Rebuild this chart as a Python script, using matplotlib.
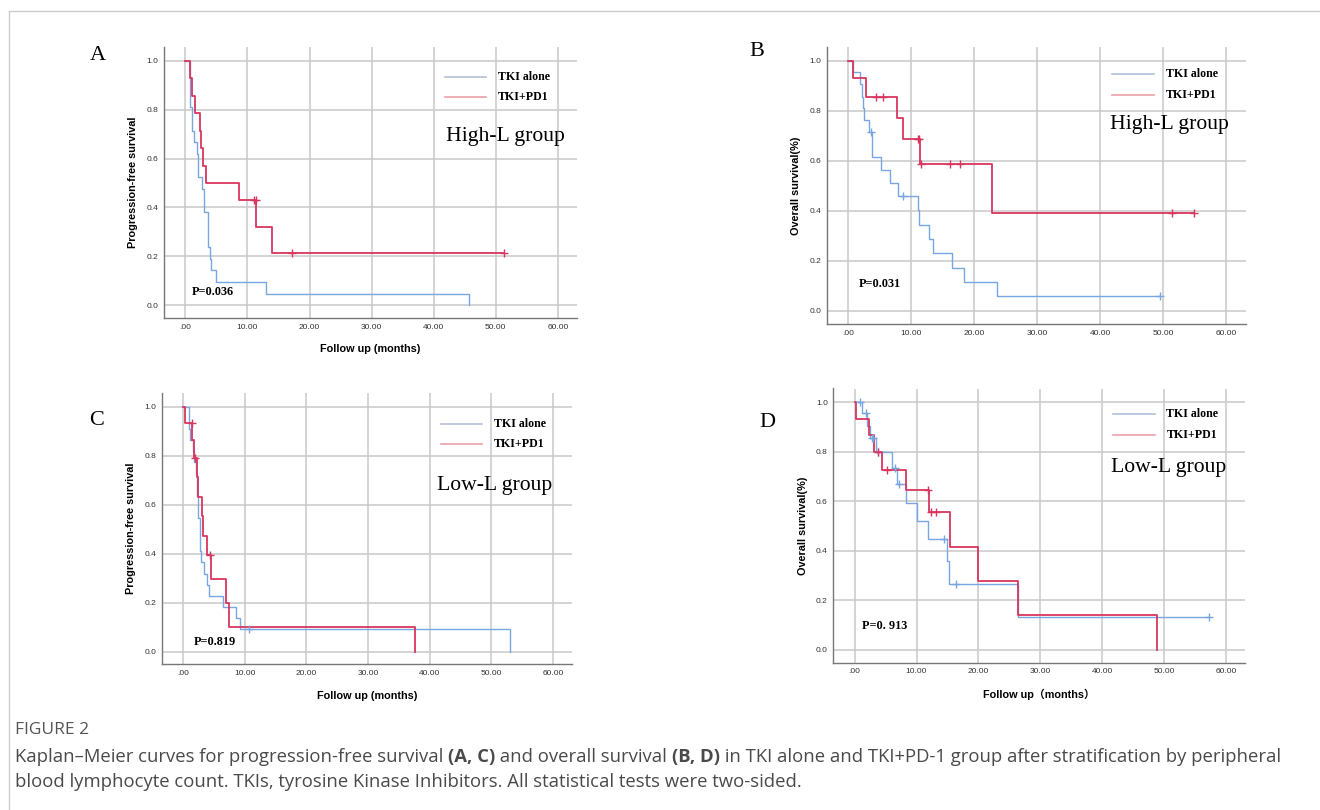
import numpy as np
import matplotlib
matplotlib.use('Agg')
import matplotlib.pyplot as plt
from matplotlib.lines import Line2D

# ---- data (months, survival proportion) ----
# A: PFS, High-L
a_alone_t = [0.75, 1.0, 1.34, 1.88, 2.1, 2.63, 2.96, 3.6, 3.92, 4.09, 5.0, 13.06, 45.7]
a_alone_s = [0.810, 0.714, 0.667, 0.619, 0.524, 0.476, 0.381, 0.238, 0.190, 0.143, 0.095, 0.048, 0.0]
a_alone_end = 45.7
a_alone_cens = []
a_pd1_t = [0.7, 1.13, 1.56, 2.37, 2.58, 2.85, 3.33, 8.66, 11.45, 14.0]
a_pd1_s = [0.929, 0.857, 0.786, 0.714, 0.643, 0.571, 0.500, 0.429, 0.321, 0.214]
a_pd1_end = 51.3
a_pd1_cens = [11.05, 11.35, 17.15, 51.3]

# B: OS, High-L
b_alone_t = [0.7, 1.85, 2.17, 2.33, 2.43, 3.33, 3.75, 5.23, 6.6, 7.88, 11.05, 11.26,
             12.74, 13.37, 16.44, 18.34, 23.6]
b_alone_s = [0.953, 0.905, 0.857, 0.810, 0.764, 0.716, 0.614, 0.563, 0.512, 0.460, 0.403,
             0.345, 0.287, 0.230, 0.172, 0.115, 0.058]
b_alone_end = 49.4
b_alone_cens = [3.54, 8.67, 49.4]
b_pd1_t = [0.69, 2.85, 7.77, 8.6, 11.36, 22.8]
b_pd1_s = [0.929, 0.857, 0.771, 0.686, 0.588, 0.392]
b_pd1_end = 54.9
b_pd1_cens = [4.4, 5.44, 11.0, 11.2, 11.45, 16.07, 17.76, 51.3, 54.9]

# C: PFS, Low-L
c_alone_t = [0.9, 1.13, 1.6, 1.85, 2.05, 2.3, 2.5, 2.7, 2.96, 3.4, 3.83, 4.2, 6.47, 8.63, 9.33, 53.1]
c_alone_s = [0.909, 0.864, 0.818, 0.773, 0.727, 0.636, 0.545, 0.409, 0.364, 0.318, 0.273,
             0.227, 0.182, 0.136, 0.091, 0.0]
c_alone_end = 53.1
c_alone_cens = [10.7]
c_pd1_t = [0.27, 1.5, 1.78, 2.2, 2.48, 3.07, 3.3, 3.9, 4.58, 6.95, 7.44, 37.6]
c_pd1_s = [0.933, 0.866, 0.791, 0.711, 0.632, 0.553, 0.474, 0.395, 0.296, 0.198, 0.099, 0.0]
c_pd1_end = 37.6
c_pd1_cens = [1.4, 1.9, 4.37]

# D: OS, Low-L
d_alone_t = [1.18, 1.93, 2.47, 3.38, 6.07, 6.87, 8.32, 10.09, 11.86, 14.92, 15.19, 26.35]
d_alone_s = [0.955, 0.905, 0.857, 0.800, 0.736, 0.669, 0.595, 0.520, 0.446, 0.357, 0.268, 0.134]
d_alone_end = 57.2
d_alone_cens = [0.91, 1.77, 2.85, 3.0, 3.76, 6.6, 7.14, 14.4, 16.4, 57.2]
d_pd1_t = [0.27, 2.3, 3.1, 4.45, 8.37, 11.97, 15.35, 19.97, 26.35, 48.9]
d_pd1_s = [0.933, 0.867, 0.800, 0.727, 0.647, 0.555, 0.416, 0.277, 0.139, 0.0]
d_pd1_end = 48.9
d_pd1_cens = [3.7, 5.26, 11.86, 12.35, 13.15]

x_ticks = [0, 10, 20, 30, 40, 50, 60]
x_ticklabels = ['.00', '10.00', '20.00', '30.00', '40.00', '50.00', '60.00']
y_ticks = [0.0, 0.2, 0.4, 0.6, 0.8, 1.0]

BLUE = '#78a6e0'
RED = '#d8365e'
W, H = 1320, 810

fig = plt.figure(figsize=(W / 100, H / 100), dpi=100)
fig.patch.set_facecolor('white')


def px_axes(left, top, right, bottom):
    return fig.add_axes([left / W, 1 - bottom / H, (right - left) / W, (bottom - top) / H])


def surv_at(ts, ss, c):
    val = 1.0
    for t, s in zip(ts, ss):
        if t <= c:
            val = s
    return val


def km(ax, ts, ss, end, cens, color, lw):
    x = [0] + list(ts) + [end]
    y = [1.0] + list(ss) + [ss[-1]]
    ax.step(x, y, where='post', color=color, lw=lw, zorder=3)
    if cens:
        ax.plot(cens, [surv_at(ts, ss, c) for c in cens], ls='none', marker='+',
                ms=6, mew=1.0, color=color, zorder=4)


def panel(box, alone, pd1, ylabel, xlabel, pval, p_xy, group, leg_y, grp_y):
    ax = px_axes(*box)
    ax.set_xlim(-3.45, 63.1)
    ax.set_ylim(-0.052, 1.056)
    ax.set_xticks(x_ticks)
    ax.set_xticklabels(x_ticklabels)
    ax.set_yticks(y_ticks)
    ax.set_yticklabels([f'{v:.1f}' for v in y_ticks])
    ax.tick_params(length=0, labelsize=6, colors='#333333', pad=4)
    for lbl in ax.get_xticklabels() + ax.get_yticklabels():
        lbl.set_family('Liberation Sans')
    ax.grid(True, color='#c9c9c9', lw=1.1, zorder=0)
    ax.set_axisbelow(True)
    for s in ['top', 'right']:
        ax.spines[s].set_visible(False)
    for s in ['left', 'bottom']:
        ax.spines[s].set_color('#777777')
        ax.spines[s].set_linewidth(1.0)
    km(ax, *alone, BLUE, 1.0)
    km(ax, *pd1, RED, 1.3)
    ax.set_ylabel(ylabel, family='Liberation Sans', fontweight='bold', fontsize=7.8,
                  labelpad=6)
    if xlabel:
        ax.set_xlabel(xlabel, family=['Liberation Sans', 'Noto Sans CJK SC'],
                      fontweight='bold', fontsize=7.8, labelpad=10)
    ax.text(p_xy[0], p_xy[1], pval, family='Liberation Serif', fontweight='bold',
            fontsize=8.8, va='center', ha='left')
    # legend drawn as plain lines + text
    for (lab, col), yy in zip([('TKI alone', '#b3c0d8'), ('TKI+PD1', '#eba0aa')], leg_y):
        ax.plot([41.8, 48.5], [yy, yy], color=col, lw=1.2, zorder=2)
        ax.text(50.4, yy, lab, family='Liberation Serif', fontweight='bold',
                fontsize=8.6, va='center', ha='left')
    ax.text(group[1], grp_y, group[0], family='Liberation Serif', fontsize=15.6,
            va='center', ha='left')
    return ax


panel((164, 47, 577, 318),
      (a_alone_t, a_alone_s, a_alone_end, a_alone_cens),
      (a_pd1_t, a_pd1_s, a_pd1_end, a_pd1_cens),
      'Progression-free survival', 'Follow up (months)', 'P=0.036', (1.0, 0.055),
      ('High-L group', 42.0), (0.935, 0.853), 0.69)
panel((826.7, 46.7, 1246, 324),
      (b_alone_t, b_alone_s, b_alone_end, b_alone_cens),
      (b_pd1_t, b_pd1_s, b_pd1_end, b_pd1_cens),
      'Overall survival(%)', None, 'P=0.031', (1.6, 0.108),
      ('High-L group', 41.5), (0.948, 0.862), 0.745)
panel((161.7, 393, 572, 664.3),
      (c_alone_t, c_alone_s, c_alone_end, c_alone_cens),
      (c_pd1_t, c_pd1_s, c_pd1_end, c_pd1_cens),
      'Progression-free survival', 'Follow up (months)', 'P=0.819', (1.7, 0.04),
      ('Low-L group', 41.2), (0.93, 0.848), 0.678)
panel((833.3, 388.5, 1245, 662.7),
      (d_alone_t, d_alone_s, d_alone_end, d_alone_cens),
      (d_pd1_t, d_pd1_s, d_pd1_end, d_pd1_cens),
      'Overall survival(%)', 'Follow up（months）', 'P=0. 913', (1.2, 0.097),
      ('Low-L group', 41.5), (0.951, 0.867), 0.735)

# panel letters
for letter, (lx, ly) in zip('ABCD', [(98, 55), (757, 52), (97, 421), (767, 422)]):
    fig.text(lx / W, 1 - ly / H, letter, family='Liberation Serif', fontsize=16,
             ha='center', va='center')

# thin frame around the figure area
fig.add_artist(Line2D([9 / W, 9 / W], [0, 1 - 11 / H], color='#cccccc', lw=1.0))
fig.add_artist(Line2D([9 / W, 1], [1 - 11 / H, 1 - 11 / H], color='#cccccc', lw=1.0))

# caption
fig.text(15 / W, 1 - 730 / H, 'FIGURE 2', family='Open Sans', fontsize=12.5,
         color='#555555', va='center')

renderer = fig.canvas.get_renderer()


def rich_line(x, y, parts):
    for txt, weight in parts:
        t = fig.text(x / W, 1 - y / H, txt, family='Open Sans', fontsize=13.3,
                     fontweight=weight, color='#4a4a4a', va='center', ha='left')
        x += t.get_window_extent(renderer).width


rich_line(15, 757, [('Kaplan\u2013Meier curves for progression-free survival ', 'normal'),
                    ('(A, C)', 'bold'),
                    (' and overall survival ', 'normal'),
                    ('(B, D)', 'bold'),
                    (' in TKI alone and TKI+PD-1 group after stratification by peripheral', 'normal')])
rich_line(15, 782, [('blood lymphocyte count. TKIs, tyrosine Kinase Inhibitors. All statistical tests were two-sided.', 'normal')])

fig.savefig('out.png', dpi=100)
